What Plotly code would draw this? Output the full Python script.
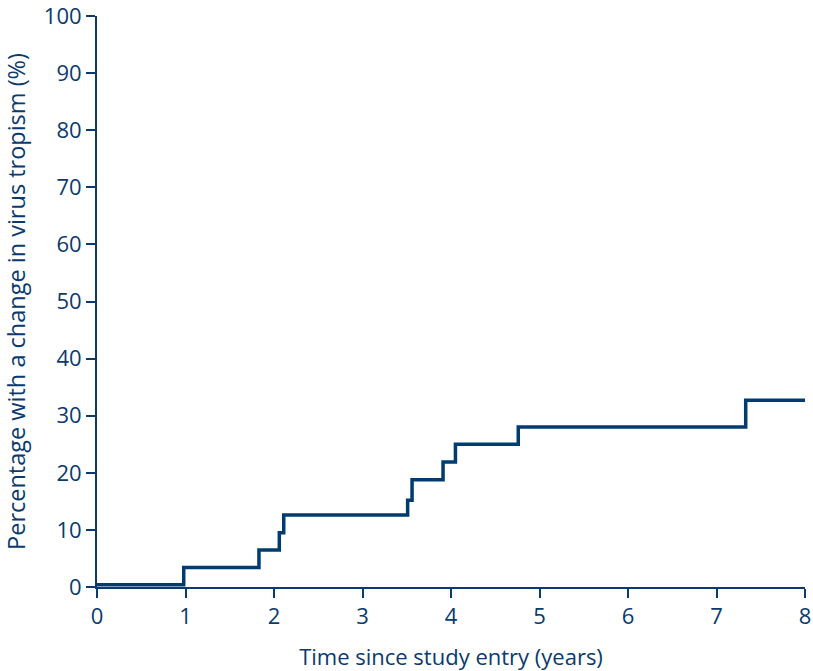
import plotly.graph_objects as go

# Step times (years) and cumulative percentage after each step
times = [0, 0.98, 1.83, 2.06, 2.11, 3.51, 3.56, 3.91, 4.05, 4.76, 7.33, 8.0]
pct = [0.4, 3.4, 6.5, 9.5, 12.6, 15.2, 18.8, 21.9, 25.0, 28.0, 32.7, 32.7]

x_ticks = [0, 1, 2, 3, 4, 5, 6, 7, 8]
y_ticks = [0, 10, 20, 30, 40, 50, 60, 70, 80, 90, 100]

navy = "#0a3a6e"
font_family = "Open Sans, Noto Sans, sans-serif"

fig = go.Figure()
fig.add_trace(go.Scatter(
    x=times, y=pct, mode="lines",
    line=dict(shape="hv", color="#003b71", width=3.5),
    showlegend=False, cliponaxis=False,
))

axis_common = dict(
    showgrid=False, zeroline=False, showline=True, linecolor=navy, linewidth=2,
    ticks="outside", ticklen=9, tickwidth=2, tickcolor=navy,
    tickfont=dict(size=22, color=navy, family=font_family),
    automargin=False, ticklabeloverflow="allow",
)

fig.update_layout(
    width=813, height=671,
    margin=dict(l=97, r=8, t=16, b=84),
    plot_bgcolor="white", paper_bgcolor="white",
    xaxis=dict(range=[0, 8], tickvals=x_ticks, **axis_common,
               title=dict(text="Time since study entry (years)",
                          font=dict(size=22, color=navy, family=font_family),
                          standoff=22)),
    yaxis=dict(range=[0, 100], tickvals=y_ticks, **axis_common,
               title=dict(text="Percentage with a change in virus tropism (%)",
                          font=dict(size=23.5, color=navy, family=font_family),
                          standoff=14)),
)

fig.write_html(
    "out.html",
    config={"displayModeBar": False},
    post_script="document.body.style.margin='0';document.body.style.overflow='hidden';",
)
